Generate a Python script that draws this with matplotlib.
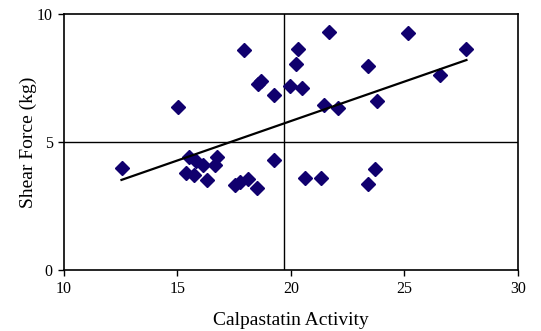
import matplotlib
matplotlib.use("Agg")
import matplotlib.pyplot as plt
import numpy as np

calpastatin = [12.55, 15.02, 17.93, 18.55, 18.68, 19.26, 19.96, 20.33, 20.22, 20.51,
               21.69, 25.15, 27.74, 23.41, 26.59, 21.47, 22.07, 23.80,
               20.62, 21.31, 23.70, 23.41, 19.26,
               15.52, 15.84, 16.14, 16.77, 16.67, 15.40, 15.73, 16.30,
               17.56, 17.75, 18.13, 18.52]
shear_force = [3.97, 6.37, 8.59, 7.25, 7.38, 6.85, 7.19, 8.63, 8.05, 7.11,
               9.31, 9.24, 8.64, 7.97, 7.62, 6.45, 6.34, 6.61,
               3.61, 3.61, 3.95, 3.36, 4.30,
               4.43, 4.27, 4.10, 4.43, 4.11, 3.80, 3.70, 3.52,
               3.32, 3.45, 3.54, 3.19]
trend_x = [12.54, 27.74]
trend_y = [3.52, 8.20]
ref_x = 19.7
ref_y = 5
x_ticks = [10, 15, 20, 25, 30]
y_ticks = [0, 5, 10]

plt.rcParams['font.family'] = ['Liberation Serif', 'DejaVu Serif']
fig = plt.figure(figsize=(5.41, 3.31), dpi=100)
ax = fig.add_axes([0.118, 0.184, 0.839, 0.774])

ax.axvline(ref_x, color='black', lw=1.0, zorder=1)
ax.axhline(ref_y, color='black', lw=1.0, zorder=1)
ax.plot(calpastatin, shear_force, linestyle='none', marker='D', markersize=7.6,
        color='#10006e', zorder=3)
ax.plot(trend_x, trend_y, color='black', lw=1.6, zorder=4)

ax.set_xlim(10, 30)
ax.set_ylim(0, 10)
ax.set_xticks(x_ticks)
ax.set_yticks(y_ticks)
ax.tick_params(direction='out', length=4, width=1.0, labelsize=11.5, pad=4)
for s in ax.spines.values():
    s.set_linewidth(1.2)
ax.set_xlabel('Calpastatin Activity', fontsize=14, labelpad=11)
ax.set_ylabel('Shear Force (kg)', fontsize=14, labelpad=0)

fig.savefig('out.png', dpi=100)
